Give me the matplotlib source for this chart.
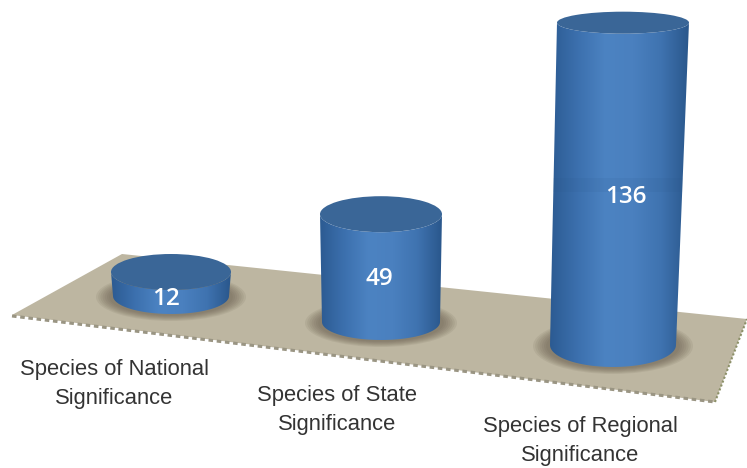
import numpy as np
import matplotlib
matplotlib.use("Agg")
import matplotlib.pyplot as plt
from matplotlib.patches import Ellipse, PathPatch, Polygon
from matplotlib.path import Path
from matplotlib.colors import LinearSegmentedColormap

categories = ["Species of National\nSignificance", "Species of State\nSignificance", "Species of Regional\nSignificance"]
values = [12, 49, 136]

# geometry of the fake 3d scene, in pixels
base_x = [171, 381, 613]
base_y = [296, 322, 345]
base_rx = [58, 59, 63]
base_ry = [18, 18, 22]
top_dx = [0, 0, 10]
top_rx = [60, 61, 66]
top_ry = [18, 18, 11]
px_per_unit = [2.0, 2.2, 2.37]  # nearer bars look bigger
label_pos = [(114, 384), (337, 410), (580, 441)]
value_pos = [(166, 299), (379, 279), (626, 197)]

floor = [(12, 315), (122, 254), (747, 319), (715, 402)]

cmap = LinearSegmentedColormap.from_list("cyl", ["#2c5b92", "#3c70ae", "#4c83c2", "#4a80bf", "#3f73b0", "#2a578c"])

fig = plt.figure(figsize=(7.47, 4.68), dpi=100)
ax = fig.add_axes([0, 0, 1, 1])
ax.set_xlim(0, 747)
ax.set_ylim(468, 0)
ax.axis("off")

ax.add_patch(Polygon(floor, closed=True, fc="#bdb6a1", ec="none", zorder=1))
ax.plot([floor[0][0], floor[3][0]], [floor[0][1] + 1, floor[3][1]], color="#9a9583", lw=2.2,
        ls=(0, (1.5, 1.2)), zorder=1.5)
ax.plot([floor[3][0], floor[2][0]], [floor[3][1], floor[2][1]], color="#8c9068", lw=1.5,
        ls=(0, (1, 1)), zorder=1.5)


def arc(cx, cy, rx, ry, a0, a1):
    t = np.linspace(a0, a1, 60)
    return np.column_stack([cx + rx * np.cos(t), cy + ry * np.sin(t)])


for i, v in enumerate(values):
    bx, by, brx, bry = base_x[i], base_y[i], base_rx[i], base_ry[i]
    tx, trx, tr_y = bx + top_dx[i], top_rx[i], top_ry[i]
    ty = by - v * px_per_unit[i]

    # soft shadow on the floor
    for k in range(7):
        ax.add_patch(Ellipse((bx, by + 1), 2 * (brx + 17 - 2.2 * k), 2 * (bry + 6 - 0.9 * k),
                             fc="#5f5445", ec="none", alpha=0.1, zorder=2))

    # body: bottom arc then back up the top one
    pts = np.vstack([arc(bx, by, brx, bry, np.pi, 0), arc(tx, ty, trx, tr_y, 0, np.pi)])
    body = PathPatch(Path(np.vstack([pts, pts[0]])), fc="none", ec="none", zorder=3)
    ax.add_patch(body)
    left = min(bx - brx, tx - trx)
    right = max(bx + brx, tx + trx)
    im = ax.imshow(np.linspace(0, 1, 256).reshape(1, -1), cmap=cmap, aspect="auto",
                   extent=(left, right, by + bry, ty - tr_y), zorder=3)
    im.set_clip_path(body)

    ax.add_patch(Ellipse((tx, ty), 2 * trx, 2 * tr_y, fc="#3a6697", ec="none", zorder=4))

# the tall bar has a faint darker band across its middle
band = ax.fill_between([540, 700], 178, 192, color="#2a5688", alpha=0.1, lw=0, zorder=3.5)
band.set_clip_path(body)

ax.set_xlim(0, 747)
ax.set_ylim(468, 0)

for i, v in enumerate(values):
    ax.text(value_pos[i][0], value_pos[i][1], str(v), color="white", fontsize=17.5, family="Open Sans",
            fontweight="semibold", ha="center", va="center", zorder=6)
    ax.text(label_pos[i][0], label_pos[i][1], categories[i], color="#333333", fontsize=15.8,
            family="Liberation Sans", ha="center", va="center", linespacing=1.5, zorder=6)

fig.savefig("out.png", dpi=100, facecolor="white")
